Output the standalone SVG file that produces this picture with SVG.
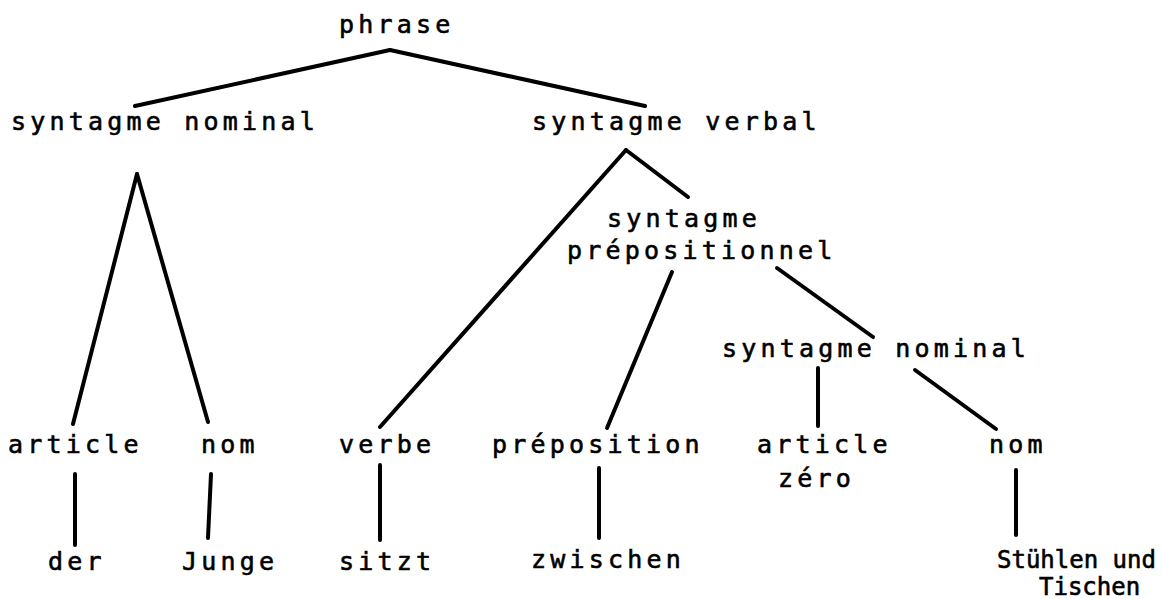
<svg xmlns="http://www.w3.org/2000/svg" width="1162" height="599" viewBox="0 0 1162 599">
<style>
  .bg { fill: #ffffff; }
  text { font-family: "DejaVu Sans Mono", "Liberation Mono", monospace; font-size: 25px; fill: #000; stroke: #000; stroke-width: 0.6px; letter-spacing: 4.2px; }
  text.narrow { font-size: 24px; letter-spacing: 0px; }
  .edge { stroke: #000; stroke-width: 4; stroke-linecap: round; fill: none; }
</style>
<rect class="bg" x="0" y="0" width="1162" height="599"/>
<g id="connectors">
  <line class="edge" x1="390" y1="50" x2="135" y2="106"/>
  <line class="edge" x1="390" y1="50" x2="645" y2="106"/>
  <line class="edge" x1="137" y1="174" x2="73" y2="424"/>
  <line class="edge" x1="137" y1="174" x2="208" y2="422"/>
  <line class="edge" x1="626" y1="150" x2="380" y2="427"/>
  <line class="edge" x1="626" y1="150" x2="688" y2="197"/>
  <line class="edge" x1="672" y1="272" x2="607" y2="428"/>
  <line class="edge" x1="777" y1="268" x2="873" y2="337"/>
  <line class="edge" x1="818" y1="368" x2="818" y2="426"/>
  <line class="edge" x1="915" y1="370" x2="996" y2="429"/>
  <line class="edge" x1="75" y1="474" x2="75" y2="545"/>
  <line class="edge" x1="211" y1="474" x2="208" y2="538"/>
  <line class="edge" x1="380" y1="465" x2="380" y2="540"/>
  <line class="edge" x1="599" y1="468" x2="599" y2="538"/>
  <line class="edge" x1="1016" y1="470" x2="1016" y2="535"/>
</g>
<g id="n-phrase"><text x="339" y="33">phrase</text></g>
<g id="n-sn1"><text x="11" y="130">syntagme nominal</text></g>
<g id="n-sv"><text x="532" y="130">syntagme verbal</text></g>
<g id="n-sp"><text x="607" y="227">syntagme</text><text x="567" y="259">prépositionnel</text></g>
<g id="n-sn2"><text x="722" y="357">syntagme nominal</text></g>
<g id="n-article1"><text x="8" y="453">article</text></g>
<g id="n-nom1"><text x="201" y="453">nom</text></g>
<g id="n-verbe"><text x="339" y="453">verbe</text></g>
<g id="n-preposition"><text x="492" y="453">préposition</text></g>
<g id="n-article2"><text x="757" y="453">article</text><text x="778" y="487">zéro</text></g>
<g id="n-nom2"><text x="989" y="453">nom</text></g>
<g id="n-der"><text x="48" y="570">der</text></g>
<g id="n-junge"><text x="182" y="570">Junge</text></g>
<g id="n-sitzt"><text x="339" y="570">sitzt</text></g>
<g id="n-zwischen"><text x="531" y="568">zwischen</text></g>
<g id="n-stuehlen"><text class="narrow" x="997" y="568">Stühlen und</text><text class="narrow" x="1039" y="595">Tischen</text></g>
</svg>
